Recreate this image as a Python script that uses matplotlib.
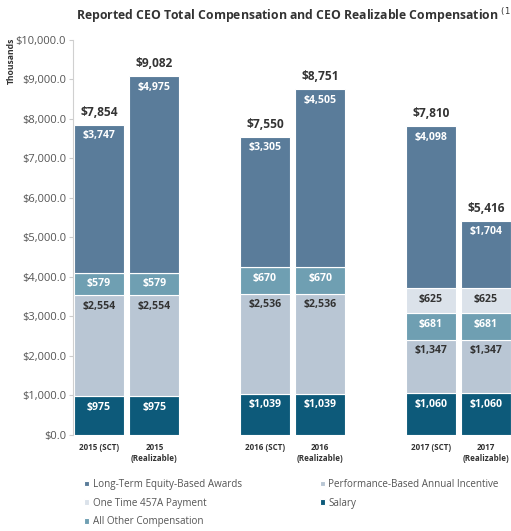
import numpy as np
import matplotlib.pyplot as plt

categories = ['2015 (SCT)', '2015\n(Realizable)', '2016 (SCT)', '2016\n(Realizable)',
              '2017 (SCT)', '2017\n(Realizable)']
positions = [0, 1, 3, 4, 6, 7]

salary = [975, 975, 1039, 1039, 1060, 1060]
perf_incentive = [2554, 2554, 2536, 2536, 1347, 1347]
all_other = [579, 579, 670, 670, 681, 681]
one_time_457a = [0, 0, 0, 0, 625, 625]
long_term = [3747, 4975, 3305, 4505, 4098, 1704]
totals = [7854, 9082, 7550, 8751, 7810, 5416]

# stacking order bottom -> top: (name, values, colour, label colour)
series = [
    ('Salary', salary, '#0d5a7a', 'white'),
    ('Performance-Based Annual Incentive', perf_incentive, '#b9c6d4', '#333333'),
    ('All Other Compensation', all_other, '#6f9fb2', 'white'),
    ('One Time 457A Payment', one_time_457a, '#dbe2ea', '#333333'),
    ('Long-Term Equity-Based Awards', long_term, '#5a7c9a', 'white'),
]

plt.rcParams['font.family'] = ['Open Sans', 'DejaVu Sans']

fig = plt.figure(figsize=(5.11, 5.31), dpi=100)
ax = fig.add_axes([0.143, 0.181, 0.859, 0.744])

bottom = np.zeros(len(positions))
handles = {}
for name, vals, color, txt_color in series:
    vals = np.array(vals, dtype=float)
    bars = ax.bar(positions, vals, width=0.9, bottom=bottom, color=color,
                  edgecolor='white', linewidth=0.8)
    handles[name] = bars
    for x, v, b in zip(positions, vals, bottom):
        if v <= 0:
            continue
        ax.annotate(f'${v:,.0f}', (x, b + v), xytext=(0, -8), textcoords='offset points',
                    ha='center', va='center', fontsize=7.6, fontweight='bold',
                    color=txt_color)
    bottom += vals

for x, t in zip(positions, totals):
    ax.annotate(f'${t:,.0f}', (x, t), xytext=(0, 9), textcoords='offset points',
                ha='center', va='center', fontsize=8.6, fontweight='bold', color='#333333')

ax.set_ylim(0, 10000)
ax.set_xlim(-0.47, 7.47)
ax.set_yticks(np.arange(0, 10001, 1000))
ax.set_yticklabels([f'${v:,.1f}' for v in np.arange(0, 10001, 1000)],
                   fontsize=8, color='#555555')
ax.set_xticks(positions)
ax.set_xticklabels(categories, fontsize=5.8, fontweight='bold', color='#333333',
                   linespacing=1.3)
ax.tick_params(axis='x', length=0, pad=6)
ax.tick_params(axis='y', length=3, color='#cccccc', pad=2)
for s in ['top', 'right', 'bottom']:
    ax.spines[s].set_visible(False)
ax.spines['left'].set_color('#d0d0d0')
ax.spines['left'].set_linewidth(0.8)

fig.text(0.022, 0.885, 'Thousands', rotation=90, fontsize=6.2, fontweight='bold',
         color='#333333', ha='center', va='center')
fig.text(0.148, 0.971, 'Reported CEO Total Compensation and CEO Realizable Compensation $^{(1}$',
         fontsize=8.8, fontweight='bold', color='#333333', ha='left', va='center')

legend_order = ['Long-Term Equity-Based Awards', 'One Time 457A Payment', 'All Other Compensation',
                'Performance-Based Annual Incentive', 'Salary']
fig.legend([handles[n] for n in legend_order], legend_order, ncol=2,
           loc='upper left', bbox_to_anchor=(0.165, 0.098), frameon=False,
           fontsize=7.1, labelcolor='#555555', handlelength=0.5, handleheight=0.5,
           handletextpad=0.35, columnspacing=7.9, labelspacing=0.78,
           borderaxespad=0, borderpad=0)

fig.savefig('out.png', dpi=100)
